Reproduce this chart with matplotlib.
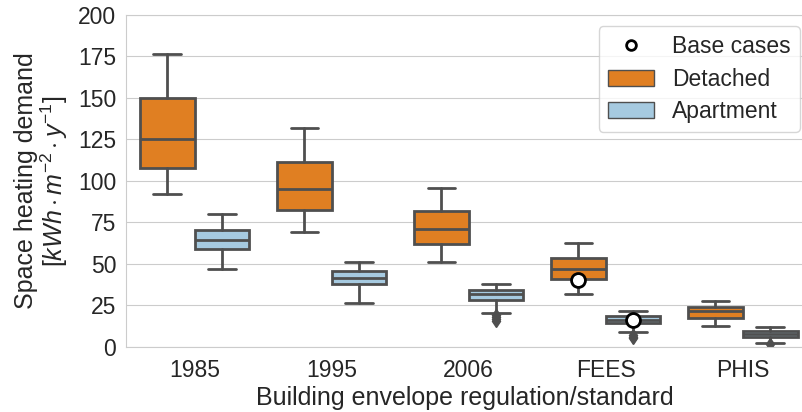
import matplotlib
matplotlib.use("Agg")
import matplotlib.pyplot as plt
import seaborn as sns
from matplotlib.lines import Line2D
from matplotlib.patches import Patch

sns.set_style("whitegrid")
plt.rcParams['font.family'] = ['Liberation Sans', 'DejaVu Sans']
plt.rcParams['mathtext.fontset'] = 'custom'
plt.rcParams['mathtext.rm'] = 'Liberation Sans'
plt.rcParams['mathtext.it'] = 'Liberation Sans:italic'

# data (kWh/m2/y)
standards = ['1985', '1995', '2006', 'FEES', 'PHIS']

det_low = [91.8, 69.2, 51.4, 31.8, 12.6]
det_q1 = [107.6, 82.4, 62.0, 41.0, 17.4]
det_med = [125.4, 95.4, 70.8, 47.2, 21.6]
det_q3 = [150.0, 111.6, 82.0, 53.8, 23.8]
det_high = [176.4, 131.6, 96.0, 62.8, 27.4]
det_fliers = [[], [], [], [], []]

apt_low = [47.2, 26.6, 20.6, 9.2, 2.4]
apt_q1 = [59.0, 37.6, 28.4, 14.2, 6.0]
apt_med = [64.4, 41.6, 31.6, 16.4, 8.0]
apt_q3 = [70.6, 46.0, 34.0, 18.6, 9.6]
apt_high = [80.0, 51.4, 38.0, 21.8, 12.2]
apt_fliers = [[], [], [19.0, 17.8, 16.6, 15.6], [7.4, 6.2, 5.2], [1.8]]

base_x = ['FEES', 'FEES']
base_type = ['Detached', 'Apartment']
base_val = [40.4, 16.4]

c_det = '#e07f22'
c_apt = '#a6cae0'
c_line = '#4f4f4f'

def make_stats(low, q1, med, q3, high, fliers):
    return [dict(whislo=a, q1=b, med=c, q3=d, whishi=e, fliers=f)
            for a, b, c, d, e, f in zip(low, q1, med, q3, high, fliers)]

fig = plt.figure(figsize=(8.03, 4.12), dpi=100)
ax = fig.add_axes([0.157, 0.158, 0.843, 0.806])

offset = 0.2
width = 0.4
pos = list(range(len(standards)))
groups = [
    ('Detached', -offset, c_det, make_stats(det_low, det_q1, det_med, det_q3, det_high, det_fliers)),
    ('Apartment', offset, c_apt, make_stats(apt_low, apt_q1, apt_med, apt_q3, apt_high, apt_fliers)),
]
for name, off, col, stats in groups:
    ax.bxp(stats, positions=[p + off for p in pos], widths=width, capwidths=width / 2,
           patch_artist=True, manage_ticks=False,
           boxprops=dict(facecolor=col, edgecolor=c_line, linewidth=2),
           medianprops=dict(color=c_line, linewidth=2),
           whiskerprops=dict(color=c_line, linewidth=2),
           capprops=dict(color=c_line, linewidth=2),
           flierprops=dict(marker='d', markerfacecolor=c_line, markeredgecolor=c_line,
                           markersize=6, linestyle='none'))

# base case markers
for s, t, v in zip(base_x, base_type, base_val):
    xo = standards.index(s) + (-offset if t == 'Detached' else offset)
    ax.plot(xo, v, 'o', markerfacecolor='white', markeredgecolor='black',
            markersize=10, markeredgewidth=2, zorder=5)

ax.set_xticks(pos)
ax.set_xticklabels(standards)
ax.set_xlim(-0.5, 4.44)
ax.set_ylim(0, 200)
ax.set_yticks(range(0, 201, 25))
ax.tick_params(labelsize=16.5)
ax.tick_params(axis='x', pad=5)
ax.set_xlabel('Building envelope regulation/standard', fontsize=18, labelpad=3)
ax.set_ylabel('Space heating demand\n[$kWh \\cdot m^{-2} \\cdot y^{-1}$]', fontsize=18,
              linespacing=1.0, labelpad=6)
ax.grid(axis='x', visible=False)
for sp in ax.spines.values():
    sp.set_color('#cccccc')

handles = [
    Line2D([], [], marker='o', linestyle='none', markerfacecolor='white',
           markeredgecolor='black', markersize=7, markeredgewidth=2),
    Patch(facecolor=c_det, edgecolor=c_line),
    Patch(facecolor=c_apt, edgecolor=c_line),
]
ax.legend(handles, ['Base cases', 'Detached', 'Apartment'], loc='upper right',
          fontsize=16.5, frameon=True, labelspacing=0.4,
          bbox_to_anchor=(1.012, 1.0))

fig.savefig('out.png', dpi=100)
